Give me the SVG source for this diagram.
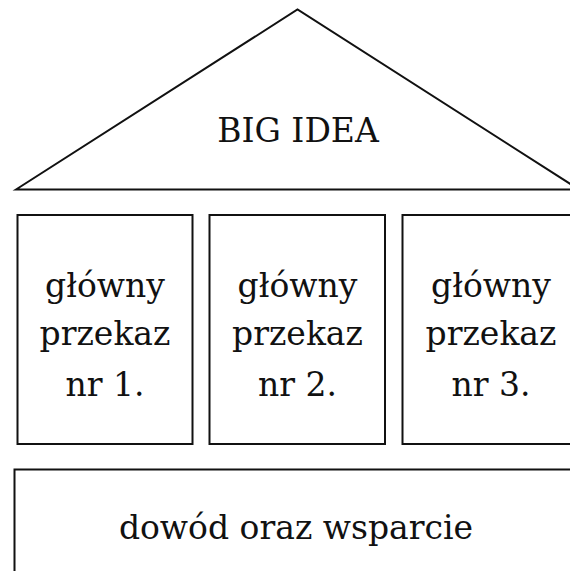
<svg xmlns="http://www.w3.org/2000/svg" width="570" height="571" viewBox="0 0 570 571">
  <style>
    .shape { fill: #ffffff; stroke: #111111; stroke-width: 2; stroke-linejoin: miter; }
    text { font-family: 'DejaVu Serif', 'Liberation Serif', serif; fill: #111111; text-anchor: middle; }
    .pillar { font-size: 33px; }
  </style>
  <rect width="570" height="571" fill="#ffffff"/>

  <!-- roof -->
  <g id="roof">
    <polygon class="shape" points="16,189.5 297.5,9.5 579,189.5"/>
    <text x="298" y="142" font-size="33">BIG IDEA</text>
  </g>

  <!-- pillars -->
  <g id="pillar-1">
    <rect class="shape" x="17.5" y="215" width="175" height="229"/>
    <text class="pillar" x="105" y="297">główny</text>
    <text class="pillar" x="105" y="345">przekaz</text>
    <text class="pillar" x="105" y="396">nr 1.</text>
  </g>
  <g id="pillar-2">
    <rect class="shape" x="209.5" y="215" width="175.5" height="229"/>
    <text class="pillar" x="297.5" y="297">główny</text>
    <text class="pillar" x="297.5" y="345">przekaz</text>
    <text class="pillar" x="297.5" y="396">nr 2.</text>
  </g>
  <g id="pillar-3">
    <rect class="shape" x="402.5" y="215" width="176" height="229"/>
    <text class="pillar" x="491" y="297">główny</text>
    <text class="pillar" x="491" y="345">przekaz</text>
    <text class="pillar" x="491" y="396">nr 3.</text>
  </g>

  <!-- foundation -->
  <g id="foundation">
    <rect class="shape" x="14.5" y="469.5" width="570" height="120"/>
    <text x="296" y="539" font-size="33">dowód oraz wsparcie</text>
  </g>
</svg>
